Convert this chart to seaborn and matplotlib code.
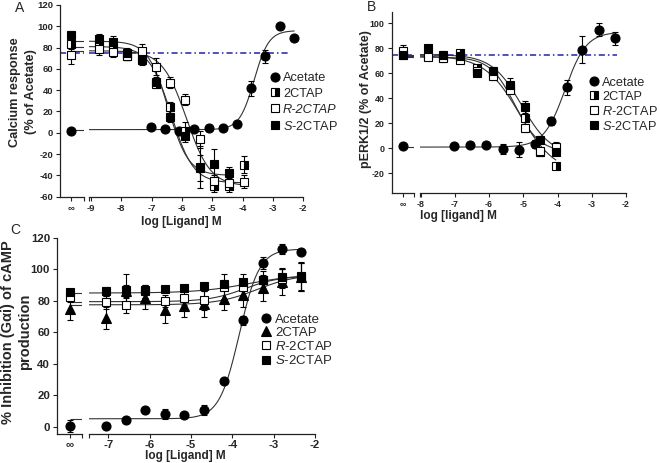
import numpy as np
import matplotlib
matplotlib.use("Agg")
import matplotlib.pyplot as plt
import seaborn as sns
from matplotlib.lines import Line2D

sns.set_style("ticks")
plt.rcParams['font.family'] = ['Liberation Sans', 'DejaVu Sans']
plt.rcParams['axes.unicode_minus'] = False
plt.rcParams['mathtext.fontset'] = 'custom'
plt.rcParams['mathtext.rm'] = 'Liberation Sans'
plt.rcParams['mathtext.it'] = 'Liberation Sans:italic'

W, H = 660, 463

# ---------------- data (log M doses, responses) ----------------
labels_A = ["Acetate", "2CTAP", "R-2CTAP", r"$\mathit{S}$-2CTAP"]
labels_B = ["Acetate", "2CTAP", r"$\mathit{R}$-2CTAP", r"$\mathit{S}$-2CTAP"]

# Panel A : calcium response
A_ace_dose = [-7.02, -6.56, -6.09, -5.60, -5.12, -4.66, -4.19, -3.71, -3.25, -2.78, -2.30]
A_ace = [5.4, 3.8, 1.6, 3.8, 4.4, 4.7, 7.9, 41.8, 71.8, 100, 89.2]
A_ace_err = [0, 0, 0, 0, 0, 0, 0, 7, 6, 0, 0]
A_lig_dose = [-8.73, -8.27, -7.80, -7.33, -6.85, -6.38, -5.90, -5.40, -4.93, -4.44, -3.97]
A_2ctap = [82, 80, 72, 70, 46, 24, 2, -33, -50, -50, -30]
A_2ctap_err = [5, 5, 4, 3, 4, 5, 8, 12, 6, 6, 8]
A_r = [79, 76, 72, 77, 62, 47, 31, -6, -45, -47, -46]
A_r_err = [6, 5, 4, 6, 8, 5, 5, 8, 5, 5, 6]
A_s_dose = [-8.73, -8.27, -7.80, -7.33, -6.85, -6.38, -5.90, -5.40, -4.93, -4.44]
A_s = [88, 85, 75, 68, 48, 15, -3, -32, -29, -38]
A_s_err = [5, 6, 5, 4, 4, 5, 6, 20, 14, 6]
A_inf = [1.3, 83, 73, 92]          # Acetate, 2CTAP, R, S without ligand
A_inf_err = [0, 4, 8, 4]
A_fit_bottom = [3, -47, -50, -40]
A_fit_top = [96, 81, 77, 86]
A_fit_logec50 = [-3.62, -6.35, -5.85, -6.45]
A_fit_hill = [1.8, -1.2, -1.1, -1.3]
A_ref = 75

# Panel B : pERK1/2
B_ace_dose = [-7.04, -6.57, -6.10, -5.60, -5.13, -4.67, -4.20, -3.73, -3.28, -2.80, -2.32]
B_ace = [1.9, 2.7, 2.7, -0.5, -1.3, 3.5, 22, 49, 79, 95, 88]
B_ace_err = [0, 0, 0, 4, 6, 3, 3, 6, 11, 5, 5]
B_lig_dose = [-7.80, -7.35, -6.85, -6.35, -5.90, -5.40, -4.95, -4.50, -4.05]
B_2ctap = [74, 73, 76, 64, 60, 49, 24, -3, -14]
B_2ctap_err = [2, 3, 3, 3, 3, 3, 3, 3, 2]
B_r = [73, 72, 71, 62, 58, 47, 16, -2, 1]
B_r_err = [2, 3, 3, 3, 3, 3, 3, 2, 4]
B_s = [80, 75, 74, 60, 62, 51, 33, 7, -3]
B_s_err = [2, 3, 3, 2, 3, 5, 5, 3, 2]
B_inf = [1.9, 75, 78, 75]
B_inf_err = [0, 2, 5, 2]
B_fit_bottom = [1, -20, -3, -6]
B_fit_top = [93, 74, 73, 75]
B_fit_logec50 = [-3.78, -5.10, -5.25, -5.05]
B_fit_hill = [1.4, -0.85, -1.2, -1.0]
B_ref = 74.6

# Panel C : % inhibition of cAMP production
C_dose = [-7.05, -6.57, -6.11, -5.63, -5.16, -4.68, -4.20, -3.74, -3.26, -2.79, -2.33]
C_ace = [0.6, 4, 10.4, 7.9, 7.5, 10.7, 28.8, 67.6, 104, 113, 111]
C_ace_err = [0, 2, 0, 3, 0, 3, 0, 3, 4, 3, 2]
C_2ctap = [69, 86, 82, 74, 77, 78, 81, 84, 88, 92, 95]
C_2ctap_err = [7, 4, 7, 8, 7, 8, 7, 8, 8, 8, 9]
C_r = [79, 77.4, 86, 80, 81.6, 80.4, 89, 89, 93, 94, 95]
C_r_err = [4, 5, 4, 4, 4, 6, 8, 8, 6, 6, 9]
C_s = [86, 87, 87, 87.5, 88, 89.5, 91, 92, 93.5, 95, 96]
C_s_err = [3, 10, 3, 2, 2, 2, 2, 2, 3, 6, 9]
C_inf = [0.4, 75, 82.5, 85.5]
C_inf_err = [4, 7, 3, 2]
C_fit_bottom = [5, 77.5, 79.5, 85]
C_fit_top = [113, 97, 96, 97]
C_fit_logec50 = [-3.83, -3.4, -3.7, -3.6]
C_fit_hill = [1.8, 0.9, 1.0, 0.7]

# ---------------- styles ----------------
ST_ACE = dict(marker='o', ms=6.5, mfc='black', mec='black', mew=0.8)
ST_HALF = dict(marker='s', ms=6, fillstyle='right', mfc='black', mfcalt='white', mec='black', mew=0.8)
ST_OPEN = dict(marker='s', ms=6, mfc='white', mec='black', mew=0.8)
ST_FILL = dict(marker='s', ms=6, mfc='black', mec='black', mew=0.8)
ST_TRI = dict(marker='^', ms=6.5, mfc='black', mec='black', mew=0.8)

fig = plt.figure(figsize=(W / 100, H / 100), dpi=100)


def add_ax(l, r, t, b):
    return fig.add_axes([l / W, 1 - b / H, (r - l) / W, (b - t) / H])


def logistic(x, bottom, top, logec50, hill):
    x = np.asarray(x, dtype=float)
    return bottom + (top - bottom) / (1 + 10 ** ((logec50 - x) * hill))


def style_axes(ax_inf, ax_main, inf_pos, xlim, xticks, ylim, yticks, fs, xpad=2):
    ax_inf.set_xlim(0, 1)
    ax_inf.set_ylim(*ylim)
    ax_main.set_xlim(*xlim)
    ax_main.set_ylim(*ylim)
    ax_inf.set_xticks([inf_pos])
    ax_inf.set_xticklabels(["\u221e"])
    ax_inf.set_xticks([1.0], minor=True)
    ax_inf.set_yticks(yticks)
    ax_inf.set_yticklabels([str(v) for v in yticks])
    ax_main.set_xticks(xticks)
    ax_main.set_xticklabels([str(v) for v in xticks])
    ax_main.set_xticks([xlim[0]], minor=True)
    for ax in (ax_inf, ax_main):
        ax.set_facecolor('none')
        for s in ('top', 'right'):
            ax.spines[s].set_visible(False)
        for s in ('left', 'bottom'):
            ax.spines[s].set_linewidth(0.9)
            ax.spines[s].set_color('#222222')
        ax.tick_params(which='both', direction='out', length=3, width=0.8,
                       color='#222222', labelsize=fs, pad=2)
        ax.tick_params(axis='x', pad=xpad)
        for t in ax.get_xticklabels() + ax.get_yticklabels():
            t.set_fontweight('bold')
    ax_main.spines['left'].set_visible(False)
    ax_main.tick_params(left=False, labelleft=False)


def draw_series(ax_inf, ax_main, inf_pos, dose, vals, errs, inf_val, inf_err,
                fit, style, curve_start):
    xs = np.linspace(curve_start, max(dose), 300)
    ys = logistic(xs, *fit)
    sns.lineplot(x=xs, y=ys, ax=ax_main, color='#333333', linewidth=0.8,
                 sort=False, errorbar=None, zorder=2)
    ax_inf.hlines(logistic(curve_start, *fit), inf_pos, 1.0, color='#333333',
                  linewidth=0.8, zorder=2)
    ax_main.errorbar(dose, vals, yerr=errs, fmt='none', ecolor='black',
                     elinewidth=0.8, capsize=2.5, capthick=0.8, zorder=3)
    ax_main.plot(dose, vals, linestyle='none', zorder=4, **style)
    ax_inf.errorbar([inf_pos], [inf_val], yerr=[inf_err], fmt='none', ecolor='black',
                    elinewidth=0.8, capsize=2.5, capthick=0.8, zorder=3)
    ax_inf.plot([inf_pos], [inf_val], linestyle='none', zorder=4, **style)


def add_legend(ax, labels, styles, x_marker, y_top, fs, spacing, italic_idx=None):
    handles = [Line2D([], [], linestyle='none', **st) for st in styles]
    leg = ax.legend(handles, labels, loc='upper left',
                    bbox_to_anchor=((x_marker - 5.5) / W, 1 - y_top / H),
                    bbox_transform=fig.transFigure, frameon=False,
                    fontsize=fs, handlelength=0.8, handletextpad=0.25,
                    labelspacing=spacing, borderpad=0, borderaxespad=0)
    if italic_idx is not None:
        leg.get_texts()[italic_idx].set_fontstyle('italic')
    return leg


def ref_line(ax_inf, ax_main, y, x_end):
    kw = dict(color='#2222aa', linewidth=1.1, linestyle=(0, (4, 2, 1, 2)), zorder=1)
    ax_inf.hlines(y, 0, 1, **kw)
    ax_main.hlines(y, ax_main.get_xlim()[0], x_end, **kw)


# ---------------- Panel A ----------------
aA_inf = add_ax(60, 84.3, 5, 196.7)
aA = add_ax(89.3, 303.3, 5, 196.7)
style_axes(aA_inf, aA, 0.44, (-9.05, -2), list(range(-9, -1)), (-60, 120),
           list(range(-60, 121, 20)), 6.8)
ref_line(aA_inf, aA, A_ref, -2.5)
A_sets = [(A_ace_dose, A_ace, A_ace_err, ST_ACE),
          (A_lig_dose, A_2ctap, A_2ctap_err, ST_HALF),
          (A_lig_dose, A_r, A_r_err, ST_OPEN),
          (A_s_dose, A_s, A_s_err, ST_FILL)]
for i, (d, v, e, st) in enumerate(A_sets):
    fit = (A_fit_bottom[i], A_fit_top[i], A_fit_logec50[i], A_fit_hill[i])
    draw_series(aA_inf, aA, 0.44, d, v, e, A_inf[i], A_inf_err[i], fit, st, -9.05)
add_legend(aA, labels_A, [ST_ACE, ST_HALF, ST_OPEN, ST_FILL], 275, 72, 9.2, 0.3, italic_idx=2)

# ---------------- Panel B ----------------
aB_inf = add_ax(391.7, 414.3, 11.7, 192.7)
aB = add_ax(420, 626, 11.7, 192.7)
style_axes(aB_inf, aB, 0.51, (-8.02, -2), list(range(-8, -1)), (-35.5, 109.3),
           list(range(-20, 101, 20)), 6.4)
ref_line(aB_inf, aB, B_ref, -2.25)
B_sets = [(B_ace_dose, B_ace, B_ace_err, ST_ACE),
          (B_lig_dose, B_2ctap, B_2ctap_err, ST_HALF),
          (B_lig_dose, B_r, B_r_err, ST_OPEN),
          (B_lig_dose, B_s, B_s_err, ST_FILL)]
for i, (d, v, e, st) in enumerate(B_sets):
    fit = (B_fit_bottom[i], B_fit_top[i], B_fit_logec50[i], B_fit_hill[i])
    draw_series(aB_inf, aB, 0.51, d, v, e, B_inf[i], B_inf_err[i], fit, st, -8.02)
add_legend(aB, labels_B, [ST_ACE, ST_HALF, ST_OPEN, ST_FILL], 594, 76.5, 9.2, 0.16)

# ---------------- Panel C ----------------
aC_inf = add_ax(57, 82, 238, 434)
aC = add_ax(89.3, 315, 238, 434)
style_axes(aC_inf, aC, 0.52, (-7.46, -2), list(range(-7, -1)), (-4.7, 120),
           list(range(0, 121, 20)), 8.2, xpad=1)
C_sets = [(C_dose, C_ace, C_ace_err, ST_ACE),
          (C_dose, C_2ctap, C_2ctap_err, ST_TRI),
          (C_dose, C_r, C_r_err, ST_OPEN),
          (C_dose, C_s, C_s_err, ST_FILL)]
for i, (d, v, e, st) in enumerate(C_sets):
    fit = (C_fit_bottom[i], C_fit_top[i], C_fit_logec50[i], C_fit_hill[i])
    draw_series(aC_inf, aC, 0.52, d, v, e, C_inf[i], C_inf_err[i], fit, st, -7.46)
add_legend(aC, labels_B, [ST_ACE, ST_TRI, ST_OPEN, ST_FILL], 266.7, 313.5, 9.5, 0.08)

# ---------------- text ----------------
fig.text(23 / W, 1 - 92 / H, "Calcium response\n(% of Acetate)", rotation=90,
         ha='center', va='center', fontsize=9.2, fontweight='bold',
         linespacing=1.5, multialignment='center')
fig.text(181.7 / W, 1 - 222 / H, "log [Ligand] M", ha='center', va='center',
         fontsize=8.5, fontweight='bold')
fig.text(366 / W, 1 - 99 / H, "pERK1/2 (% of Acetate)", rotation=90,
         ha='center', va='center', fontsize=9, fontweight='bold')
fig.text(458 / W, 1 - 216 / H, "log [ligand] M", ha='center', va='center',
         fontsize=8.5, fontweight='bold')
fig.text(16.5 / W, 1 - 332 / H, "% Inhibition (G\u03b1i) of cAMP\nproduction", rotation=90,
         ha='center', va='center', fontsize=10.5, fontweight='bold',
         linespacing=1.2, multialignment='center')
fig.text(185 / W, 1 - 456.5 / H, "log [Ligand] M", ha='center', va='center',
         fontsize=8.5, fontweight='bold')
fig.text(20 / W, 1 - 8 / H, "A", ha='center', va='center', fontsize=10)
fig.text(372 / W, 1 - 7 / H, "B", ha='center', va='center', fontsize=10)
fig.text(15 / W, 1 - 230 / H, "C", ha='center', va='center', fontsize=10)

fig.savefig("out.png", dpi=100)
